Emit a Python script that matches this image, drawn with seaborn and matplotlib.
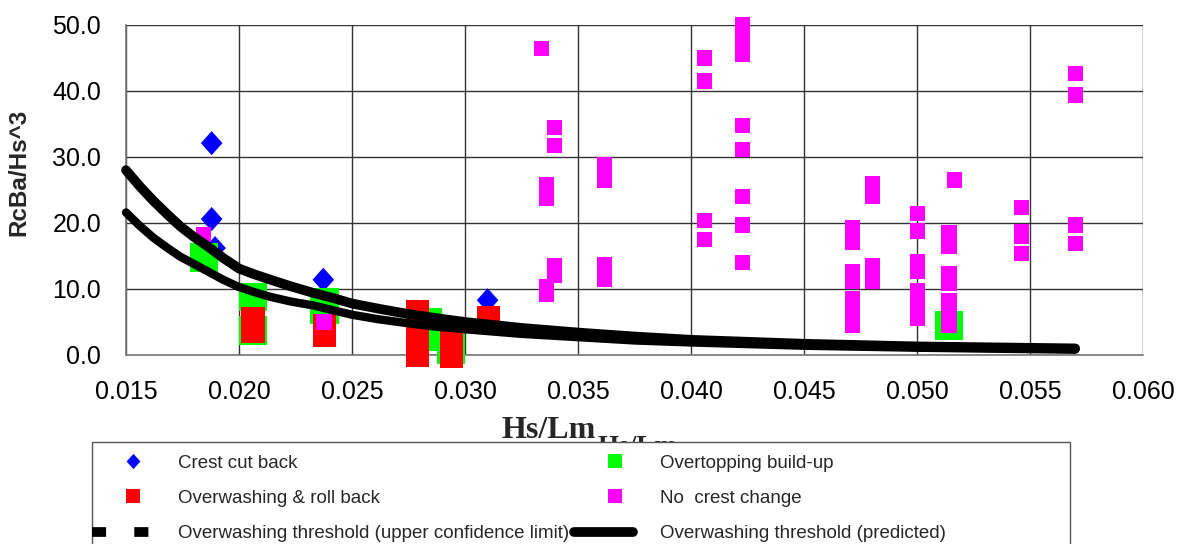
import matplotlib
matplotlib.use("Agg")
import matplotlib.pyplot as plt
from matplotlib.lines import Line2D
from matplotlib.patches import Rectangle
from matplotlib.legend_handler import HandlerLine2D
from matplotlib.ticker import FormatStrFormatter
import seaborn as sns

# ---------------- data ----------------
crest_x = [0.01879, 0.01879, 0.01894, 0.02373, 0.03100]
crest_y = [32.1, 20.6, 16.2, 11.4, 8.3]

build_x = [0.01845, 0.02062, 0.02062, 0.02378, 0.02378, 0.02835, 0.02835,
           0.02938, 0.02938, 0.05141]
build_y = [14.8, 8.8, 3.7, 8.0, 6.8, 5.0, 2.7, 2.5, 0.8, 4.5]

roll_x = [0.02062, 0.02062, 0.02379, 0.02379, 0.02790, 0.02790, 0.02790,
          0.02790, 0.02939, 0.02939, 0.02939, 0.03102, 0.03102]
roll_y = [5.6, 3.5, 4.5, 2.9, 6.6, 4.5, 2.2, 0.0, 3.3, 1.5, -0.2, 5.7, 5.0]

none_x = [0.01842, 0.02376, 0.03339,
          0.03396, 0.03396, 0.03396, 0.03396,
          0.03361, 0.03361, 0.03361, 0.03361,
          0.03617, 0.03617, 0.03617, 0.03617,
          0.04060, 0.04060, 0.04060, 0.04060,
          0.04228, 0.04228, 0.04228, 0.04228, 0.04228, 0.04228, 0.04228, 0.04228,
          0.04715, 0.04715, 0.04715, 0.04715, 0.04715, 0.04715, 0.04715,
          0.04803, 0.04803, 0.04803, 0.04803,
          0.05002, 0.05002, 0.05002, 0.05002, 0.05002, 0.05002, 0.05002,
          0.05166,
          0.05142, 0.05142, 0.05142, 0.05142, 0.05142, 0.05142, 0.05142,
          0.05462, 0.05462, 0.05462, 0.05462,
          0.05701, 0.05701, 0.05701, 0.05701]
none_y = [18.3, 5.0, 46.4,
          34.5, 31.7, 13.5, 12.1,
          25.8, 23.7, 10.4, 9.2,
          28.9, 26.5, 13.7, 11.4,
          45.0, 41.5, 20.4, 17.5,
          50.0, 47.7, 45.5, 34.8, 31.1, 24.0, 19.7, 14.0,
          19.3, 17.0, 12.7, 11.2, 8.5, 6.5, 4.5,
          25.9, 24.1, 13.6, 11.2,
          21.4, 18.8, 14.1, 12.7, 9.8, 7.6, 5.5,
          26.5,
          18.6, 16.4, 12.3, 10.9, 8.3, 6.4, 4.5,
          22.4, 18.7, 18.0, 15.4,
          42.6, 39.4, 19.7, 16.9]

thr_x = [0.0150, 0.0156, 0.0162, 0.0168, 0.0174, 0.0180, 0.0186, 0.0193,
         0.0200, 0.0207, 0.0214, 0.0223, 0.0233, 0.0242, 0.0250, 0.0262,
         0.0275, 0.0287, 0.0300, 0.0325, 0.0350, 0.0375, 0.0400, 0.0425,
         0.0450, 0.0475, 0.0500, 0.0535, 0.0570]
thr_upper = [28.0, 25.6, 23.4, 21.4, 19.5, 17.9, 16.5, 14.7,
             13.1, 12.2, 11.4, 10.4, 9.4, 8.6, 7.8, 7.0,
             6.2, 5.6, 5.0, 4.1, 3.4, 2.8, 2.3, 2.0,
             1.7, 1.5, 1.3, 1.15, 1.0]
thr_pred = [21.6, 19.6, 17.8, 16.3, 14.9, 13.8, 12.7, 11.4,
            10.3, 9.5, 8.8, 8.1, 7.5, 6.75, 6.1, 5.4,
            4.8, 4.3, 3.9, 3.2, 2.7, 2.2, 1.9, 1.65,
            1.4, 1.25, 1.1, 0.95, 0.8]

x_ticks = [0.015, 0.020, 0.025, 0.030, 0.035, 0.040, 0.045, 0.050, 0.055, 0.060]
y_ticks = [0.0, 10.0, 20.0, 30.0, 40.0, 50.0]

labels = ["Crest cut back", "Overwashing & roll back",
          "Overwashing threshold (upper confidence limit)",
          "Overtopping build-up", "No  crest change",
          "Overwashing threshold (predicted)"]

# ---------------- style ----------------
sns.set_style("white")
plt.rcParams["font.family"] = ["Liberation Sans", "DejaVu Sans"]

W, H = 1184, 544
fig = plt.figure(figsize=(W / 100, H / 100), dpi=100)
ax = fig.add_axes([126 / W, 1 - 355 / H, (1143 - 126) / W, 330 / H])

BLUE, GREEN, RED, MAG = "#0000FF", "#00FF00", "#FF0000", "#FF00FF"
diamond = [(0, 1), (0.9, 0), (0, -1), (-0.9, 0)]

sns.scatterplot(x=crest_x, y=crest_y, ax=ax, marker=diamond, s=300,
                color=BLUE, edgecolor="none", linewidth=0, zorder=3, clip_on=False)
sns.scatterplot(x=build_x, y=build_y, ax=ax, marker="s", s=420,
                color=GREEN, edgecolor="none", linewidth=0, zorder=4, clip_on=False)
sns.scatterplot(x=roll_x, y=roll_y, ax=ax, marker="s", s=275,
                color=RED, edgecolor="none", linewidth=0, zorder=5, clip_on=False)
sns.scatterplot(x=none_x, y=none_y, ax=ax, marker="s", s=120,
                color=MAG, edgecolor="none", linewidth=0, zorder=6, clip_on=False)

sns.lineplot(x=thr_x, y=thr_upper, ax=ax, color="black", lw=7, sort=False,
             estimator=None, zorder=7, solid_capstyle="round",
             solid_joinstyle="round", clip_on=False)
sns.lineplot(x=thr_x, y=thr_pred, ax=ax, color="black", lw=6, sort=False,
             estimator=None, zorder=8, solid_capstyle="round",
             solid_joinstyle="round", clip_on=False)

ax.set_xlim(0.015, 0.060)
ax.set_ylim(0, 50)
ax.set_xticks(x_ticks)
ax.set_yticks(y_ticks)
ax.xaxis.set_major_formatter(FormatStrFormatter("%.3f"))
ax.yaxis.set_major_formatter(FormatStrFormatter("%.1f"))
ax.tick_params(axis="both", which="major", direction="out", length=6, width=1,
               color="#777777", labelsize=18, labelcolor="black")
ax.tick_params(axis="x", pad=12)
ax.tick_params(axis="y", pad=12)
ax.grid(True, color="#333333", linewidth=1.0)
ax.set_axisbelow(True)
for side in ["top", "right"]:
    ax.spines[side].set_visible(False)
for side in ["left", "bottom"]:
    ax.spines[side].set_color("#777777")
    ax.spines[side].set_linewidth(1.2)

ax.set_ylabel("RcBa/Hs^3", fontsize=17.5, fontweight="bold")
ax.yaxis.set_label_coords((30 - 126) / 1017, (355 - 172) / 330)
ax.set_xlabel("")

serif = ["Liberation Serif", "DejaVu Serif"]
fig.text(549 / W, 1 - 438 / H, "Hs/Lm", ha="center", va="baseline",
         fontsize=23, fontweight="bold", family=serif, zorder=2)
fig.text(597 / W, 1 - 454 / H, "Hs/Lm", ha="left", va="baseline",
         fontsize=19.5, fontweight="bold", family=serif, zorder=1)

# legend box (extends past the bottom edge, as in the reference)
fig.add_artist(Rectangle((92 / W, -0.05), (1070 - 92) / W, 1 - 442 / H + 0.05,
                         transform=fig.transFigure, facecolor="white",
                         edgecolor="#555555", linewidth=1.0, zorder=4))


# ---------------- legend ----------------
class ShiftedMarkerHandler(HandlerLine2D):
    """Places the single legend marker a bit right of the handle centre."""
    def get_xdata(self, legend, xdescent, ydescent, width, height, fontsize):
        xdata, xdata_marker = super().get_xdata(legend, xdescent, ydescent,
                                                width, height, fontsize)
        shift = 0.2 * width
        return ([x + shift for x in xdata], [x + shift for x in xdata_marker])


handles = [
    Line2D([], [], ls="none", marker=diamond, markersize=11, color=BLUE, mew=0),
    Line2D([], [], ls="none", marker="s", markersize=10.5, color=RED, mew=0),
    Line2D([], [], color="black", lw=7, dashes=(1.45, 2.9), dash_capstyle="butt"),
    Line2D([], [], ls="none", marker="s", markersize=10.5, color=GREEN, mew=0),
    Line2D([], [], ls="none", marker="s", markersize=10.5, color=MAG, mew=0),
    Line2D([], [], color="black", lw=7, solid_capstyle="round"),
]
hmap = {handles[i]: ShiftedMarkerHandler() for i in (0, 1, 3, 4)}
leg = fig.legend(handles, labels, ncol=2, loc="upper left",
                 bbox_to_anchor=(83 / W, 1 - 445 / H), handler_map=hmap,
                 borderaxespad=0, fontsize=13.5, frameon=False,
                 handlelength=3.1, handletextpad=1.45, columnspacing=0.3,
                 labelspacing=0.98, borderpad=0.5)
leg.set_zorder(10)

fig.savefig("out.png", dpi=100)
